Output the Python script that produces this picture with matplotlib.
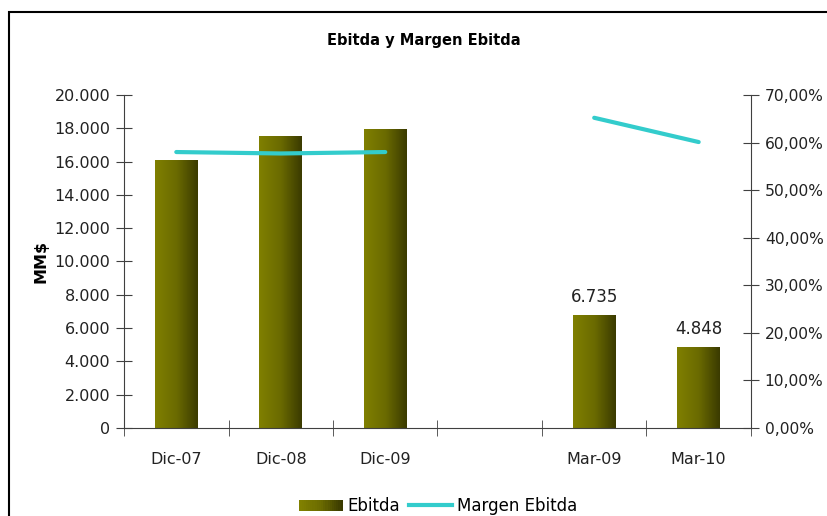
import matplotlib.pyplot as plt
import matplotlib.patches as mpatches
from matplotlib.colors import LinearSegmentedColormap
from matplotlib.legend_handler import HandlerBase
from matplotlib.lines import Line2D
from matplotlib.ticker import FuncFormatter, FixedLocator
import numpy as np

categories = ["Dic-07", "Dic-08", "Dic-09", "", "Mar-09", "Mar-10"]
ebitda = [16050, 17480, 17920, np.nan, 6735, 4848]
margen = [0.580, 0.577, 0.580, np.nan, 0.652, 0.601]
bar_labels = ["", "", "", "", "6.735", "4.848"]

olive = LinearSegmentedColormap.from_list("olive", ["#808000", "#6b6b00", "#3a3a00"])
line_color = "#33cccc"
spine_color = "#404040"

plt.rcParams['font.family'] = ['DejaVu Sans']

fig = plt.figure(figsize=(8.27, 5.16), dpi=100)
ax = fig.add_axes([0.150, 0.1705, 0.758, 0.6455])
ax2 = ax.twinx()

x = np.arange(len(categories))
grad = np.linspace(0, 1, 256).reshape(1, -1)
bars = ax.bar(x, np.nan_to_num(ebitda), width=0.41, color="none", edgecolor="none")
for b in bars:
    if b.get_height() <= 0:
        continue
    x0, w, h = b.get_x(), b.get_width(), b.get_height()
    ax.imshow(grad, cmap=olive, aspect="auto", extent=(x0, x0 + w, 0, h), zorder=2)

for xi, v, lab in zip(x, ebitda, bar_labels):
    if lab:
        ax.annotate(lab, (xi, v), xytext=(0, 7), textcoords="offset points",
                    ha="center", va="bottom", fontsize=12, color="#222222")

ax2.plot(x, margen, color=line_color, lw=3.0, solid_capstyle="round")

ax.set_xlim(-0.5, 5.5)
ax.set_ylim(0, 20000)
ax2.set_ylim(0, 0.70)
ax.set_yticks(np.arange(0, 20001, 2000))
ax2.set_yticks(np.arange(0, 0.701, 0.10))
ax.yaxis.set_major_formatter(FuncFormatter(lambda v, p: f"{int(v):,}".replace(",", ".")))
ax2.yaxis.set_major_formatter(FuncFormatter(lambda v, p: f"{v * 100:.2f}%".replace(".", ",")))

ax.set_xticks(x)
ax.set_xticklabels(categories, fontsize=11.5, color="#222222")
ax.xaxis.set_minor_locator(FixedLocator(np.arange(-0.5, 5.6, 1)))
ax.tick_params(axis="x", which="major", length=0, pad=17)
ax.tick_params(axis="x", which="minor", direction="inout", length=12, color=spine_color)
ax.tick_params(axis="y", direction="inout", length=12, color=spine_color, labelsize=11.5,
               labelcolor="#222222", pad=4)
ax2.tick_params(axis="y", direction="inout", length=12, color=spine_color, labelsize=11.2,
                labelcolor="#222222", pad=4)

for a in (ax, ax2):
    a.spines["top"].set_visible(False)
    for s in ("left", "right", "bottom"):
        a.spines[s].set_color(spine_color)
ax2.spines["left"].set_visible(False)
ax2.spines["bottom"].set_visible(False)
ax.spines["right"].set_visible(False)

ax.set_ylabel("MM$", fontsize=11.5, fontweight="bold", labelpad=4)
fig.text(0.512, 0.922, "Ebitda y Margen Ebitda", ha="center", va="center",
         fontsize=10.5, fontweight="bold")


class GradientHandler(HandlerBase):
    def create_artists(self, legend, orig, xd, yd, width, height, fontsize, trans):
        n = 20
        arts = []
        for i in range(n):
            r = mpatches.Rectangle((xd + width * i / n, yd), width / n + 0.2, height,
                                   facecolor=olive(i / (n - 1)), edgecolor="none", transform=trans)
            arts.append(r)
        return arts


bar_handle = mpatches.Patch(label="Ebitda")
line_handle = Line2D([], [], color=line_color, lw=3.0, label="Margen Ebitda")
fig.legend([bar_handle, line_handle], ["Ebitda", "Margen Ebitda"],
           handler_map={bar_handle: GradientHandler()},
           loc="center", bbox_to_anchor=(0.53, 0.019), ncol=2, frameon=False,
           fontsize=12, handlelength=2.6, handletextpad=0.3, columnspacing=0.5)

# chart frame, runs off the right and bottom edges like the original
border = mpatches.Rectangle((9 / 827, -0.1), 1.2, 0.1 + 1 - 12 / 516,
                            transform=fig.transFigure, fill=False, edgecolor="black", lw=1.5)
fig.add_artist(border)

fig.savefig("out.png", dpi=100)
